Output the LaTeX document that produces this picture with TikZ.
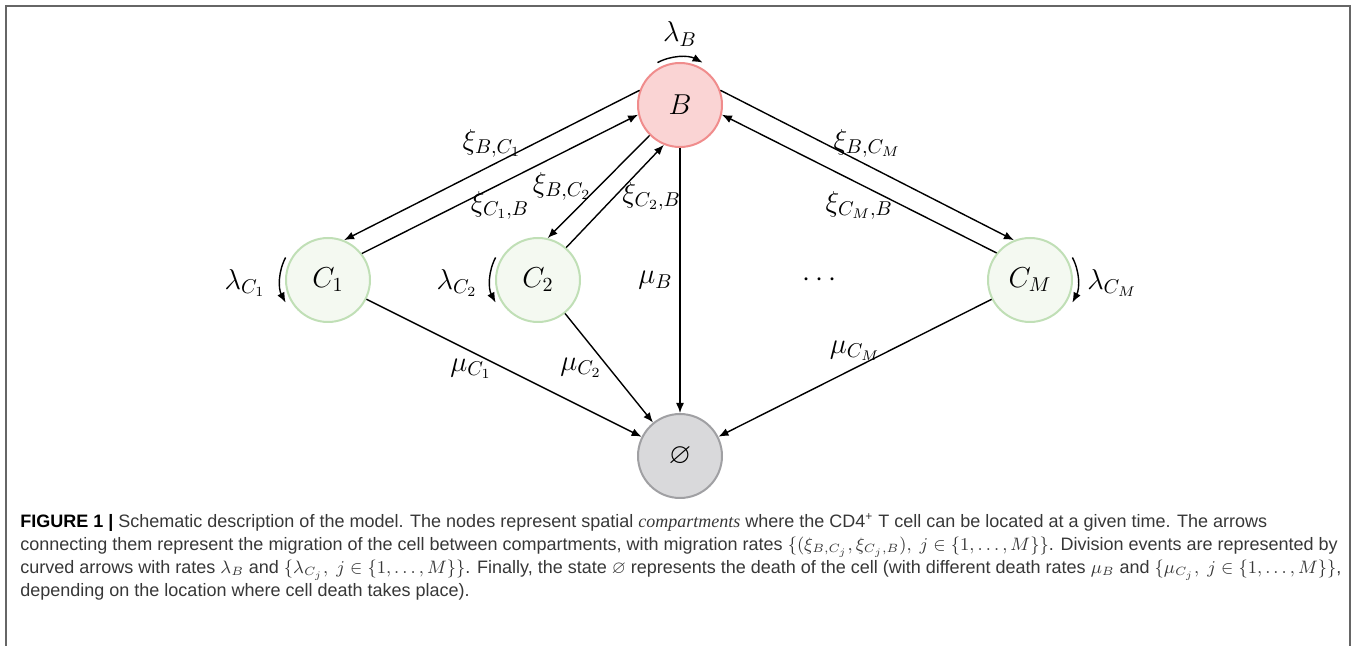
\documentclass[tikz,border=0pt]{standalone}
\usepackage{amsmath,amssymb}
\usepackage{fontspec}
\setmainfont{Liberation Sans}
\newfontfamily\capserif{Liberation Serif}
\usetikzlibrary{arrows.meta}
\definecolor{bfill}{RGB}{250,212,212}
\definecolor{bdraw}{RGB}{240,140,140}
\definecolor{cfill}{RGB}{244,249,241}
\definecolor{cdraw}{RGB}{192,223,182}
\definecolor{dfill}{RGB}{217,217,219}
\definecolor{ddraw}{RGB}{160,160,163}
\definecolor{captext}{RGB}{55,55,55}

\begin{document}
\begin{tikzpicture}[x=0.5pt, y=0.5pt,
    state/.style={draw, circle, minimum size=42pt, inner sep=0pt, line width=1pt, font=\Large},
    arr/.style={-{Latex[length=5pt,width=4pt]}, line width=0.7pt},
    lbl/.style={font=\Large},
    frameline/.style={draw=black!60, line width=1pt}
]
\useasboundingbox (0,0) rectangle (1356,-646);
\draw[frameline] (6,-646) -- (6,-6) -- (1350,-6) -- (1350,-646);

% compartments
\node[state, fill=bfill, draw=bdraw] (B) at (680,-105) {$B$};
\node[state, fill=cfill, draw=cdraw] (C1) at (328,-280) {$C_1$};
\node[state, fill=cfill, draw=cdraw] (C2) at (538,-280) {$C_2$};
\node[state, fill=cfill, draw=cdraw] (CM) at (1030,-280) {$C_M$};
\node[lbl] (dots) at (822,-280) {$\cdots$};
\node[state, fill=dfill, draw=ddraw] (D) at (680,-456) {$\varnothing$};

% migration
\draw[arr] (B.160) -- node[lbl, above] (xBC1) {$\xi_{B,C_1}$} (C1.68);
\draw[arr] (C1.38) -- node[lbl, below] (xC1B) {$\xi_{C_1,B}$} (B.193);
\draw[arr] (B.225) -- node[lbl, left] (xBC2) {$\xi_{B,C_2}$} (C2.77);
\draw[arr] (C2.49) -- node[lbl, right] (xC2B) {$\xi_{C_2,B}$} (B.248);
\draw[arr] (B.20) -- node[lbl, above] (xBCM) {$\xi_{B,C_M}$} (CM.112);
\draw[arr] (CM.141) -- node[lbl, below] (xCMB) {$\xi_{C_M,B}$} (B.347);

% death
\draw[arr] (B) -- node[lbl, left] (mB) {$\mu_B$} (D);
\draw[arr] (C1) -- node[lbl, pos=0.38, below] (mC1) {$\mu_{C_1}$} (D);
\draw[arr] (C2) -- node[lbl, left] (mC2) {$\mu_{C_2}$} (D);
\draw[arr] (CM) -- node[lbl, above] (mCM) {$\mu_{C_M}$} (D);

% division
\draw[arr] (B.center) ++(118:48) arc[start angle=118, end angle=62, radius=48];
\draw[arr] (C1.center) ++(152:48) arc[start angle=152, end angle=208, radius=48];
\draw[arr] (C2.center) ++(152:48) arc[start angle=152, end angle=208, radius=48];
\draw[arr] (CM.center) ++(28:48) arc[start angle=28, end angle=-28, radius=48];
\node[lbl] (lB) at (680,-34) {$\lambda_B$};
\node[lbl] (lC1) at (245,-283) {$\lambda_{C_1}$};
\node[lbl] (lC2) at (457,-283) {$\lambda_{C_2}$};
\node[lbl] (lCM) at (1112,-283) {$\lambda_{C_M}$};

% caption
\node[anchor=north west, inner sep=0pt, align=left, text=captext,
      font=\fontsize{9}{11.5}\selectfont] (cap) at (20,-513) {%
{\color{black}\textbf{FIGURE 1 |}} Schematic description of the model. The nodes represent spatial {\capserif\itshape compartments} where the CD4\textsuperscript{+} T cell can be located at a given time. The arrows\\
connecting them represent the migration of the cell between compartments, with migration rates $\{(\xi_{B,C_j},\xi_{C_j,B}),\ j\in\{1,\ldots,M\}\}$. Division events are represented by\\
curved arrows with rates $\lambda_B$ and $\{\lambda_{C_j},\ j\in\{1,\ldots,M\}\}$. Finally, the state $\varnothing$ represents the death of the cell (with different death rates $\mu_B$ and $\{\mu_{C_j},\ j\in\{1,\ldots,M\}\}$,\\
depending on the location where cell death takes place).};
\end{tikzpicture}
\end{document}
